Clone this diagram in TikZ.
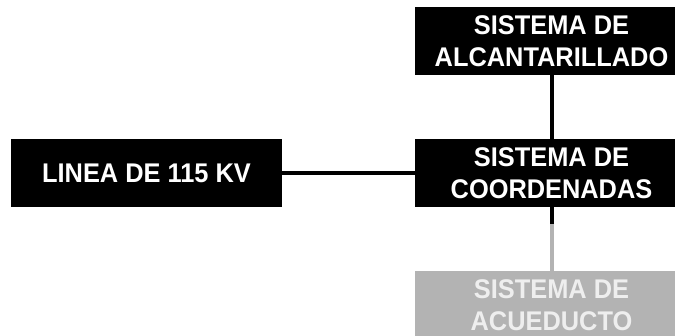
\documentclass[tikz,border=0pt]{standalone}
\usepackage{fontspec}
\setmainfont{Liberation Sans}
\newfontfamily\boxfont[FakeStretch=0.94]{Liberation Sans}
\definecolor{boxgray}{HTML}{B3B3B3}
\definecolor{txtgray}{HTML}{EEEEEE}
\tikzset{
  blackbox/.style={fill=black, text=white, font=\boxfont\bfseries\fontsize{27pt}{32pt}\selectfont,
    align=center, inner sep=0pt, minimum width=273pt, minimum height=68pt},
  graybox/.style={blackbox, fill=boxgray, text=txtgray},
  conn/.style={line width=4.5pt, draw=black},
  grayconn/.style={line width=4.5pt, draw=boxgray}
}
\begin{document}
\begin{tikzpicture}[x=1pt,y=1pt]
\useasboundingbox (0,0) rectangle (675,-336);
\clip (0,0) rectangle (675,-336);
\node[blackbox] (alc) at (551.5,-41) {SISTEMA DE\\ALCANTARILLADO};
\node[blackbox] (coord) at (551.5,-173) {SISTEMA DE\\COORDENADAS};
\node[graybox] (acu) at (551.5,-305) {SISTEMA DE\\ACUEDUCTO};
\node[blackbox, minimum width=271pt] (linea) at (146.5,-173) {LINEA DE 115 KV};
\coordinate (mid) at ([yshift=-17pt]coord.south);
\draw[conn] (alc.south -| 552,0) -- (coord.north -| 552,0);
\draw[conn] (linea.east) -- (coord.west);
\draw[grayconn] (mid -| 552,0) -- (acu.north -| 552,0);
\draw[conn] (coord.south -| 552,0) -- (mid -| 552,0);
\end{tikzpicture}
\end{document}
